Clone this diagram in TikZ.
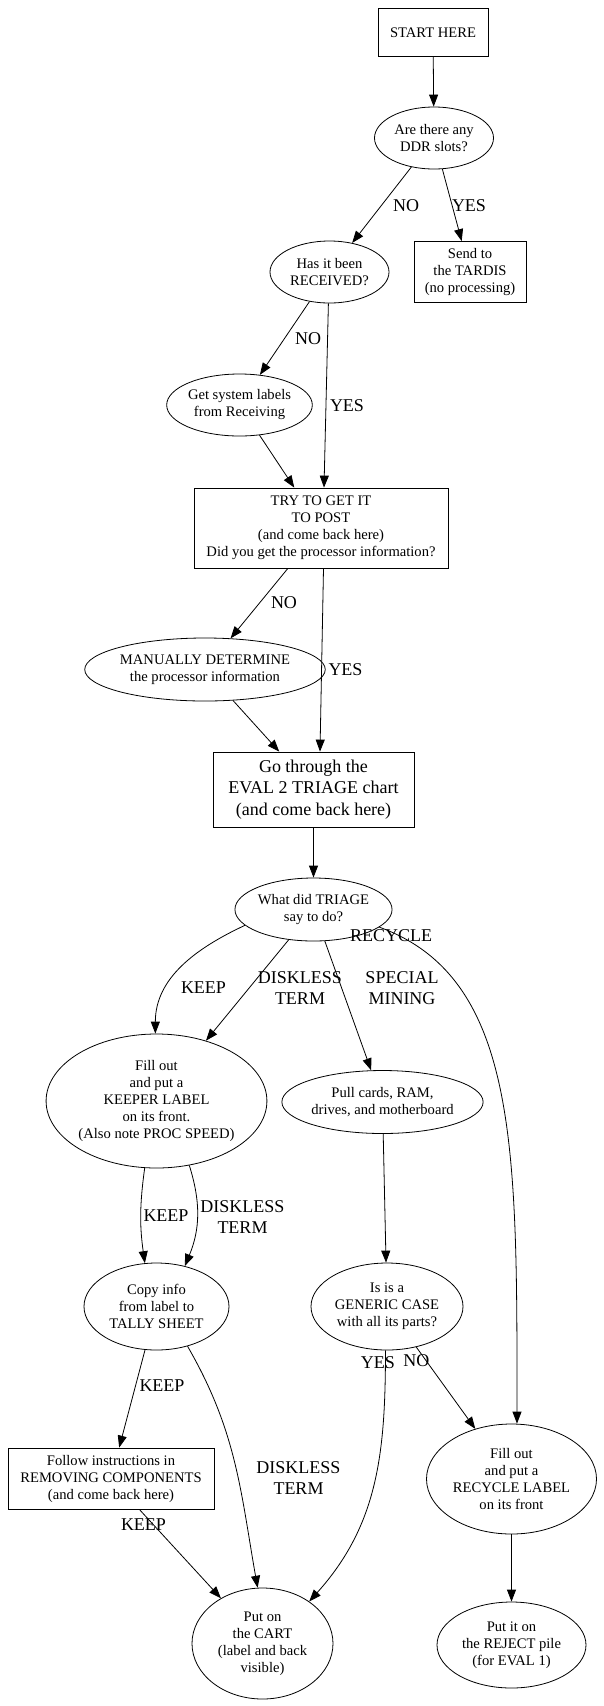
\documentclass[tikz,border=0pt]{standalone}
\usepackage{fontspec}
\setmainfont{Liberation Serif}
\usetikzlibrary{shapes.geometric}
\usetikzlibrary{arrows.meta}

\begin{document}
\begin{tikzpicture}[x=1pt, y=-1pt,
		every node/.style={align=center, inner sep=0pt, font=\fontsize{14.6}{17}\selectfont},
		stepbox/.style={draw, rectangle, line width=0.8pt},
		askbox/.style={draw, ellipse, line width=0.8pt},
		link/.style={-{Triangle[length=12pt, width=9pt]}, line width=0.8pt},
		lbl/.style={font=\fontsize{18}{21}\selectfont}]
	\useasboundingbox (0,0) rectangle (603,1706);

	\node[stepbox, minimum width=110pt, minimum height=48pt] (start) at (433,32.5) {START HERE};
	\node[askbox, minimum width=119pt, minimum height=62pt] (ddr) at (434,138) {Are there any\\DDR slots?};
	\node[stepbox, minimum width=112pt, minimum height=61pt] (tardis) at (470,272) {Send to\\the TARDIS\\(no processing)};
	\node[askbox, minimum width=119pt, minimum height=62pt] (received) at (329.5,272) {Has it been\\RECEIVED?};
	\node[askbox, minimum width=143pt, minimum height=62pt] (getlabels) at (239.5,405) {Get system labels\\from Receiving};
	\node[stepbox, minimum width=254pt, minimum height=80pt] (trypost) at (321,528) {TRY TO GET IT\\TO POST\\(and come back here)\\Did you get the processor information?};
	\node[askbox, minimum width=213pt, minimum height=63pt] (manual) at (205,669.5) {MANUALLY DETERMINE\\the processor information};
	\node[stepbox, minimum width=201pt, minimum height=75pt, font=\fontsize{18}{21.7}\selectfont] (eval) at (313.5,789.5) {Go through the\\EVAL 2 TRIAGE chart\\(and come back here)};
	\node[askbox, minimum width=155pt, minimum height=63pt] (triage) at (313.5,909.5) {What did TRIAGE\\say to do?};
	\node[askbox, minimum width=219pt, minimum height=134pt] (keeper) at (156.5,1101) {Fill out\\and put a\\KEEPER LABEL\\on its front.\\(Also note PROC SPEED)};
	\node[askbox, minimum width=185pt, minimum height=63pt] (pull) at (382.5,1102) {Pull cards, RAM,\\drives, and motherboard};
	\node[askbox, minimum width=145pt, minimum height=87pt] (copy) at (156.5,1306.5) {Copy info\\from label to\\TALLY SHEET};
	\node[askbox, minimum width=152pt, minimum height=87pt] (generic) at (387,1306.5) {Is is a\\GENERIC CASE\\with all its parts?};
	\node[stepbox, minimum width=206pt, minimum height=61pt] (follow) at (111,1478.5) {Follow instructions in\\REMOVING COMPONENTS\\(and come back here)};
	\node[askbox, minimum width=170pt, minimum height=110pt] (recycle) at (511.5,1479) {Fill out\\and put a\\RECYCLE LABEL\\on its front};
	\node[askbox, minimum width=141pt, minimum height=111pt] (cart) at (262.5,1643.5) {Put on\\the CART\\(label and back\\visible)};
	\node[askbox, minimum width=149pt, minimum height=86pt] (reject) at (511.5,1645) {Put it on\\the REJECT pile\\(for EVAL 1)};

	% edge labels
	\node[lbl] (l1) at (406,206) {NO};
	\node[lbl] (l2) at (469,206) {YES};
	\node[lbl] (l3) at (308,339) {NO};
	\node[lbl] (l4) at (347,406) {YES};
	\node[lbl] (l5) at (284,603) {NO};
	\node[lbl] (l6) at (345.5,670) {YES};
	\node[lbl] (l7) at (391,936) {RECYCLE};
	\node[lbl] (l8) at (203.5,988) {KEEP};
	\node[lbl] (l9) at (300,988) {DISKLESS\\TERM};
	\node[lbl] (l10) at (402,988) {SPECIAL\\MINING};
	\node[lbl] (l11) at (166,1216) {KEEP};
	\node[lbl] (l12) at (242.5,1217.5) {DISKLESS\\TERM};
	\node[lbl] (l13) at (162,1385.5) {KEEP};
	\node[lbl] (l14) at (298.5,1478) {DISKLESS\\TERM};
	\node[lbl] (l15) at (377.8,1363) {YES};
	\node[lbl] (l16) at (416.4,1361) {NO};
	\node[lbl] (l17) at (143.5,1524.5) {KEEP};

	\draw[link] (start) -- (ddr);
	\draw[link] (ddr) -- (received);
	\draw[link] (ddr) -- (tardis);
	\draw[link] (received) -- (getlabels);
	\draw[link] (received.-92) -- ([xshift=3pt]trypost.north);
	\draw[link] (getlabels) -- (trypost);
	\draw[link] (trypost) -- (manual);
	\draw[link] ([xshift=2.5pt]trypost.south) -- ([xshift=6.5pt]eval.north);
	\draw[link] (manual) -- (eval);
	\draw[link] (eval) -- (triage);

	\draw[link] (triage.193) to[out=205, in=90] (keeper.91);
	\draw[link] (triage) -- (keeper);
	\draw[link] (triage) -- (pull);
	\draw[link] (triage.-15) .. controls (519,978) and (517,1150) .. ([xshift=5.5pt]recycle.north);

	\draw[link] (keeper.260) to[bend right=8] (copy.105);
	\draw[link] (keeper.-63) to[bend left=20] (copy.55);
	\draw[link] (pull) -- (generic);

	\draw[link] (copy) -- (follow);
	\draw[link] (copy.-52) to[out=-60, in=100] (cart.95);
	\draw[link] (generic.268) to[out=-90, in=48] (cart.42);
	\draw[link] (generic) -- (recycle);
	\draw[link] (follow) -- (cart);
	\draw[link] (recycle) -- (reject);
\end{tikzpicture}
\end{document}
